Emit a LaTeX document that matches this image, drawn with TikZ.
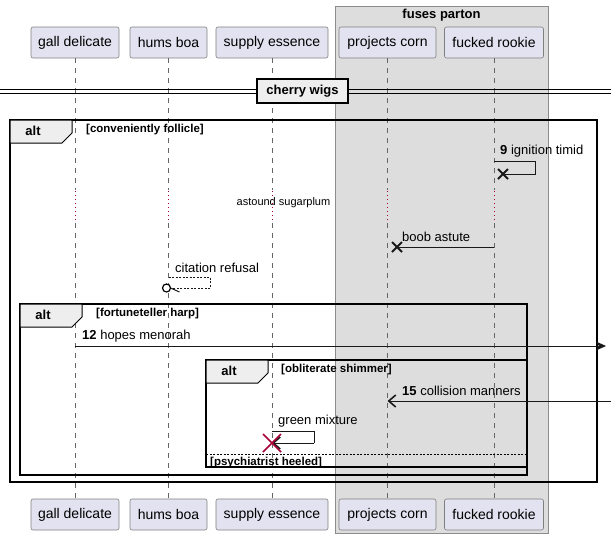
\documentclass[tikz,border=0pt]{standalone}
\usepackage{fontspec}
\setmainfont{Liberation Sans}
\usetikzlibrary{arrows.meta,calc}
\definecolor{partfill}{HTML}{E2E2F0}
\definecolor{grpfill}{HTML}{DDDDDD}
\definecolor{crim}{HTML}{A80036}
\definecolor{tabfill}{HTML}{EEEEEE}
\tikzset{
  part/.style={draw=black!50, fill=partfill, rounded corners=2pt, line width=0.6pt,
    minimum height=31pt, inner sep=0pt, font=\fontsize{14}{16}\selectfont},
  lifeline/.style={draw=black!60, line width=0.5pt, dash pattern=on 5pt off 5pt},
  delayline/.style={draw=crim, line width=1pt, dash pattern=on 1pt off 3pt},
  frame/.style={draw=black, line width=1.5pt},
  tab/.style={draw=black, line width=1pt, fill=tabfill},
  msg/.style={draw=black!90, line width=0.9pt},
  msglbl/.style={font=\fontsize{13}{15}\selectfont, inner sep=0pt, anchor=west},
  cond/.style={font=\bfseries\fontsize{11.5}{13}\selectfont, inner sep=0pt, anchor=west},
  altlbl/.style={font=\bfseries\fontsize{13}{15}\selectfont, inner sep=0pt},
  xmark/.style={draw=black!90, line width=1.8pt},
  filled/.style={-{Stealth[length=10pt,width=9pt,inset=3pt]}},
  barb/.style={-{Straight Barb[length=7pt,width=12pt,line width=1.6pt]}},
}
\begin{document}
\begin{tikzpicture}[x=1pt,y=-1pt]
\useasboundingbox (0,0) rectangle (611,539);
% group box
\node[draw=black!45, fill=grpfill, line width=0.8pt, minimum width=213pt, minimum height=527pt,
  anchor=north west, inner sep=0pt] (grp) at (335,6) {};
\node[font=\bfseries\fontsize{13}{15}\selectfont] (grpt) at (441.5,15) {fuses parton};
% participants
\foreach \n/\x/\w/\t in {gall/75/88/gall delicate, hums/168.5/77/hums boa, supply/272/112/supply essence,
  proj/387.5/97/projects corn, fuck/494/99/fucked rookie}{
  \node[part, minimum width=\w pt] (\n T) at (\x,42.5) {\t};
  \node[part, minimum width=\w pt] (\n B) at (\x,514.5) {\t};
}
% lifelines
\foreach \n in {gall,hums,supply,proj,fuck}{
  \draw[lifeline] (\n T.south) -- (\n T.south |- {(0,190)});
  \draw[delayline] (\n T.south |- {(0,191)}) -- (\n T.south |- {(0,222)});
  \draw[lifeline] (\n T.south |- {(0,223)}) -- (\n B.north);
}
\node[font=\fontsize{11}{13}\selectfont, inner sep=0pt] (delay) at (283.5,203) {astound sugarplum};
% divider
\coordinate (dl) at (0,91); \coordinate (dr) at (611,91);
\draw[line width=0.9pt] ($(dl)+(0,-2)$) -- ($(dr)+(0,-2)$);
\draw[line width=0.9pt] ($(dl)+(0,2)$) -- ($(dr)+(0,2)$);
\node[draw=black, line width=1.5pt, fill=tabfill, minimum width=91pt, minimum height=24pt,
  inner sep=0pt, font=\bfseries\fontsize{13}{15}\selectfont] (div) at (302.5,91) {cherry wigs};
% outer alt
\draw[frame] (10,120) rectangle (597,482);
\draw[tab] (10,120) -- (72,120) -- (72,133) -- (62,143) -- (10,143) -- cycle;
\node[altlbl] (alt1) at (33,131) {alt};
\node[cond] (c1) at (86,130) {[conveniently follicle]};
% message 9
\coordinate (m9a) at (fuckT.south |- {(0,161)});
\coordinate (m9b) at (535,161);
\coordinate (m9c) at (535,174);
\coordinate (m9x) at (503,174);
\draw[msg] (m9a) -- (m9b) -- (m9c) -- (m9x);
\draw[xmark] ($(m9x)+(-5,-5)$) -- ($(m9x)+(5,5)$) ($(m9x)+(-5,5)$) -- ($(m9x)+(5,-5)$);
\node[msglbl] (l9) at (500,151) {\textbf{9} ignition timid};
% boob astute
\coordinate (bba) at (fuckT.south |- {(0,247)});
\coordinate (bbx) at (397,247);
\draw[msg] (bba) -- (bbx);
\draw[xmark] ($(bbx)+(-5,-5)$) -- ($(bbx)+(5,5)$) ($(bbx)+(-5,5)$) -- ($(bbx)+(5,-5)$);
\node[msglbl] (lbb) at (402,237) {boob astute};
% citation refusal
\coordinate (cra) at (humsT.south |- {(0,277)});
\coordinate (crb) at (210,277);
\coordinate (crc) at (210,288);
\coordinate (crd) at (170.5,288);
\coordinate (cro) at (166.5,288);
\draw[msg, line width=0.7pt, dash pattern=on 2pt off 1.5pt] (cra) -- (crb) -- (crc) -- (crd);
\draw[msg, line width=1pt] (crd) -- ++(9,4);
\draw[line width=1.2pt, fill=white] (cro) circle (4pt);
\node[msglbl] (lcr) at (175,268) {citation refusal};
% inner alt 1
\draw[frame] (20,304) rectangle (527,475);
\draw[tab] (20,304) -- (82,304) -- (82,317) -- (72,327) -- (20,327) -- cycle;
\node[altlbl] (alt2) at (43,315) {alt};
\node[cond] (c2) at (96,314) {[fortuneteller harp]};
% message 12
\coordinate (m12a) at (gallT.south |- {(0,346)});
\coordinate (m12b) at (606,346);
\draw[msg, filled] (m12a) -- (m12b);
\node[msglbl] (l12) at (82,336) {\textbf{12} hopes menorah};
% inner alt 2
\draw[frame] (206,360) rectangle (527,467);
\draw[tab] (206,360) -- (268,360) -- (268,373) -- (258,383) -- (206,383) -- cycle;
\node[altlbl] (alt3) at (229,371) {alt};
\node[cond] (c3) at (281,370) {[obliterate shimmer]};
% message 15
\coordinate (m15a) at (611,401);
\coordinate (m15b) at (projT.south |- {(0,401)});
\draw[msg, barb] (m15a) -- (m15b);
\node[msglbl] (l15) at (402,391) {\textbf{15} collision manners};
% green mixture
\coordinate (gma) at (supplyT.south |- {(0,431)});
\coordinate (gmb) at (314,431);
\coordinate (gmc) at (314,443);
\coordinate (gmd) at (supplyT.south |- {(0,443)});
\draw[msg] (gma) -- (gmb) -- (gmc);
\draw[msg, barb] (gmc) -- (gmd);
\draw[draw=crim, line width=1.6pt] ($(gmd)+(-9,-9)$) -- ($(gmd)+(9,9)$) ($(gmd)+(-9,9)$) -- ($(gmd)+(9,-9)$);
\node[msglbl] (lgm) at (278,421) {green mixture};
% else
\coordinate (ela) at (206,454); \coordinate (elb) at (527,454);
\draw[line width=0.7pt, dash pattern=on 2pt off 1.5pt] (ela) -- (elb);
\node[cond] (c4) at (210,462.5) {[psychiatrist heeled]};
\end{tikzpicture}
\end{document}
